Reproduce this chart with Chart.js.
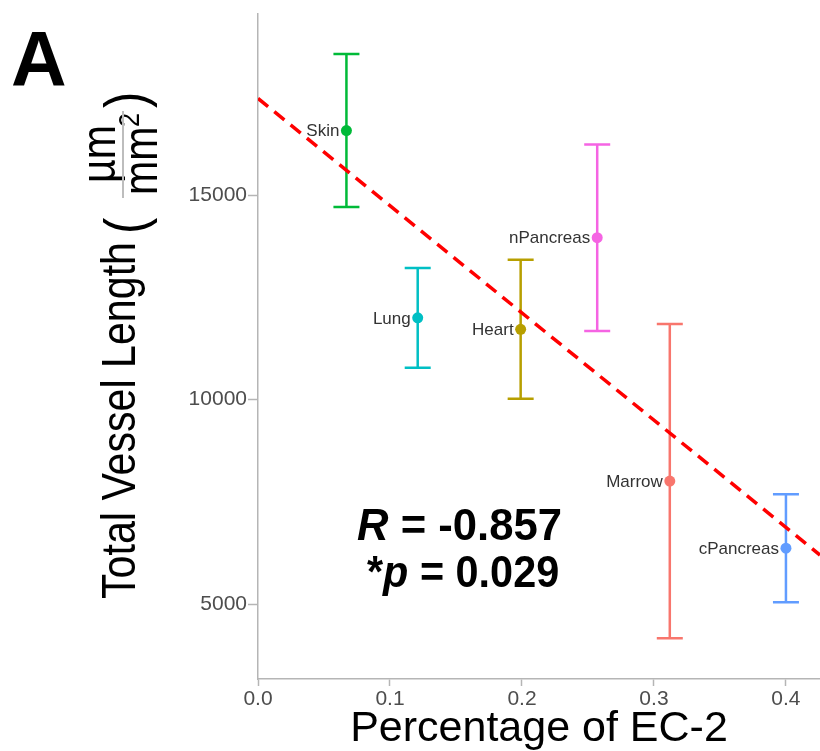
<!DOCTYPE html>
<html>
<head>
<meta charset="utf-8">
<script src="https://cdn.jsdelivr.net/npm/chart.js@4.4.1/dist/chart.umd.min.js"></script>
<style>
  body { margin: 0; background: #fff; }
  canvas { display: block; }
</style>
</head>
<body>
<canvas id="myChart" width="820" height="751"></canvas>
<script>
//data
const tissues = ["Skin", "Lung", "Heart", "nPancreas", "Marrow", "cPancreas"];
const ec2Pct = [0.067, 0.121, 0.199, 0.257, 0.312, 0.4];
const vesselLength = [16580, 12000, 11720, 13960, 8010, 6370];
const vesselErr = [1870, 1220, 1700, 2280, 3840, 1320];
const tissueColors = ["#00BA38", "#00BFC4", "#B79F00", "#F564E3", "#F8766D", "#619CFF"];

//regression line end points
const fitX = [0, 0.4258];
const fitY = [17366, 6200];

const xTicks = [0, 0.1, 0.2, 0.3, 0.4];
const yTicks = [5000, 10000, 15000];

const FONT = "'Liberation Sans', Arial, Helvetica, sans-serif";
const axisGrey = "#b5b5b5";

//error bars, drawn under the points
const errorBars = {
  id: "errorBars",
  beforeDatasetsDraw(chart) {
    const { ctx, scales } = chart;
    ctx.save();
    ctx.lineWidth = 2.5;
    tissues.forEach((t, i) => {
      const x = scales.x.getPixelForValue(ec2Pct[i]);
      const yTop = scales.y.getPixelForValue(vesselLength[i] + vesselErr[i]);
      const yBot = scales.y.getPixelForValue(vesselLength[i] - vesselErr[i]);
      ctx.strokeStyle = tissueColors[i];
      ctx.beginPath();
      ctx.moveTo(x, yTop);
      ctx.lineTo(x, yBot);
      ctx.moveTo(x - 13, yTop);
      ctx.lineTo(x + 13, yTop);
      ctx.moveTo(x - 13, yBot);
      ctx.lineTo(x + 13, yBot);
      ctx.stroke();
    });
    ctx.restore();
  },
};

//helper: text squeezed horizontally
function squeezed(ctx, txt, x, y, font, sq) {
  ctx.save();
  ctx.font = font;
  ctx.translate(x, y);
  ctx.scale(sq, 1);
  ctx.fillText(txt, 0, 0);
  const w = ctx.measureText(txt).width * sq;
  ctx.restore();
  return w;
}

//texts: point labels, axis titles, panel letter, stats
const textLayer = {
  id: "textLayer",
  afterDraw(chart) {
    const { ctx, scales, chartArea } = chart;
    ctx.save();

    //point labels
    ctx.font = "17px " + FONT;
    ctx.fillStyle = "#333333";
    ctx.textAlign = "right";
    ctx.textBaseline = "middle";
    tissues.forEach((t, i) => {
      const x = scales.x.getPixelForValue(ec2Pct[i]);
      const y = scales.y.getPixelForValue(vesselLength[i]);
      ctx.fillText(t, x - 7, y + 1);
    });

    //x title
    ctx.fillStyle = "#000";
    ctx.textAlign = "center";
    ctx.textBaseline = "alphabetic";
    ctx.font = "43px " + FONT;
    ctx.fillText("Percentage of EC-2", (chartArea.left + chartArea.right) / 2, 741);

    //panel letter
    ctx.textAlign = "left";
    ctx.font = "bold 77px " + FONT;
    ctx.fillText("A", 11, 86);

    //stats
    let x0 = 357;
    x0 += squeezed(ctx, "R", x0, 540, "italic bold 45px " + FONT, 0.97);
    squeezed(ctx, " = -0.857", x0, 540, "bold 45px " + FONT, 0.97);

    x0 = 367;
    x0 += squeezed(ctx, "*", x0, 587, "bold 45px " + FONT, 0.92);
    x0 += squeezed(ctx, "p", x0, 587, "italic bold 45px " + FONT, 0.92);
    squeezed(ctx, " = 0.029", x0, 587, "bold 45px " + FONT, 0.92);

    //y title, rotated
    ctx.rotate(-Math.PI / 2);
    const sq = 0.84;
    const drawSq = (txt, rx, ry, font, align) => {
      ctx.save();
      ctx.font = font;
      ctx.textAlign = align || "left";
      ctx.translate(rx, ry);
      ctx.scale(sq, 1);
      ctx.fillText(txt, 0, 0);
      ctx.restore();
    };
    drawSq("Total Vessel Length", -599, 135, "49px " + FONT);
    drawSq("(", -234, 145, "58px " + FONT);
    drawSq("µm", -154, 115, "49px " + FONT, "center");
    drawSq("mm", -195, 157, "49px " + FONT);
    drawSq("2", -127, 139, "30px " + FONT);
    drawSq(")", -108, 145, "58px " + FONT);
    ctx.strokeStyle = "#bdbdbd";
    ctx.lineWidth = 2;
    ctx.beginPath();
    ctx.moveTo(-198, 123);
    ctx.lineTo(-111, 123);
    ctx.stroke();

    ctx.restore();
  },
};

const data = {
  datasets: [
    {
      type: "line",
      data: fitX.map((x, i) => ({ x: x, y: fitY[i] })),
      borderColor: "#ff0000",
      borderWidth: 3.5,
      borderDash: [13, 8],
      pointRadius: 0,
      fill: false,
      order: 0,
    },
    {
      data: tissues.map((t, i) => ({ x: ec2Pct[i], y: vesselLength[i] })),
      pointBackgroundColor: tissueColors,
      pointBorderWidth: 0,
      pointRadius: 5.5,
      order: 1,
    },
  ],
};

const config = {
  type: "scatter",
  data: data,
  options: {
    responsive: false,
    animation: false,
    layout: { autoPadding: false, padding: { top: 11, right: 0, left: 0, bottom: 0 } },
    plugins: { legend: { display: false }, tooltip: { enabled: false } },
    scales: {
      x: {
        type: "linear",
        min: 0,
        max: fitX[1],
        afterFit: (s) => { s.height = 72; },
        afterBuildTicks: (s) => { s.ticks = xTicks.map((v) => ({ value: v })); },
        ticks: {
          padding: 1,
          color: "#4d4d4d",
          font: { family: FONT, size: 21 },
          callback: (v) => v.toFixed(1),
        },
        grid: { drawOnChartArea: false, drawTicks: true, tickLength: 7, tickColor: axisGrey, tickWidth: 1.5 },
        border: { display: true, color: axisGrey, width: 1.5 },
      },
      y: {
        type: "linear",
        min: 3171,
        max: 19439,
        afterFit: (s) => { s.width = 258; },
        afterBuildTicks: (s) => { s.ticks = yTicks.map((v) => ({ value: v })); },
        ticks: {
          padding: 1,
          color: "#4d4d4d",
          font: { family: FONT, size: 21 },
          callback: (v) => String(v),
        },
        grid: { drawOnChartArea: false, drawTicks: true, tickLength: 10, tickColor: axisGrey, tickWidth: 1.5 },
        border: { display: true, color: axisGrey, width: 1.5 },
      },
    },
  },
  plugins: [errorBars, textLayer],
};

const myChart = new Chart(document.getElementById("myChart"), config);
</script>
</body>
</html>
